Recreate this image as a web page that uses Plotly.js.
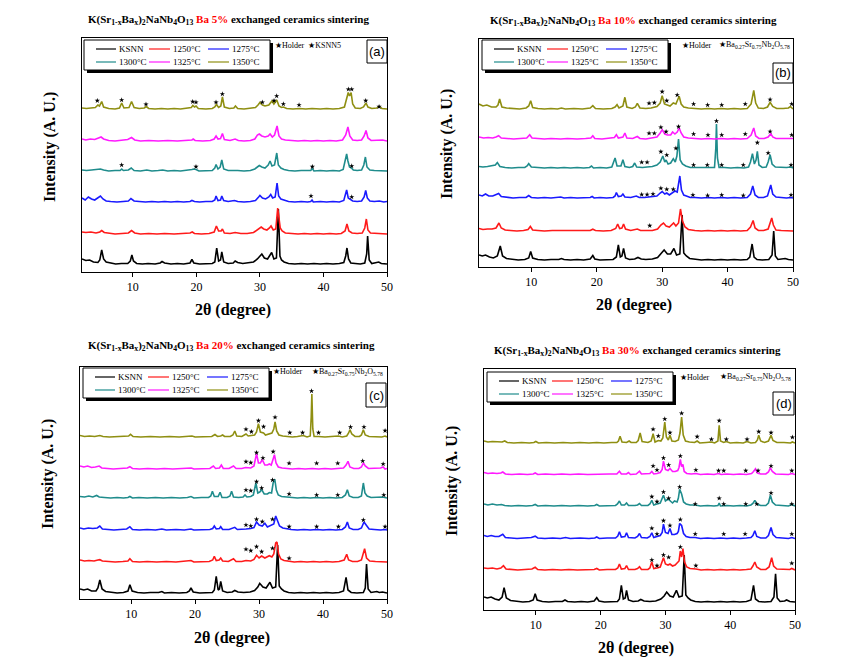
<!DOCTYPE html>
<html><head><meta charset="utf-8">
<script src="https://cdn.plot.ly/plotly-3.0.1.min.js"></script>
<style>html,body{margin:0;padding:0;background:#fff}#chart{width:858px;height:665px}</style>
</head><body><div id="chart"></div>
<script>
// ---------- DATA ----------
const angleTicks = [10, 20, 30, 40, 50];
const seriesNames = ['KSNN', '1250°C', '1275°C', '1300°C', '1325°C', '1350°C'];
const panelBa = ['Ba 5%', 'Ba 10%', 'Ba 20%', 'Ba 30%'];
const panelLetters = ['(a)', '(b)', '(c)', '(d)'];
const secondPhase = ['KSNN5', 'Ba<sub>0.27</sub>Sr<sub>0.75</sub>Nb<sub>2</sub>O<sub>5.78</sub>', 'Ba<sub>0.27</sub>Sr<sub>0.75</sub>Nb<sub>2</sub>O<sub>5.78</sub>', 'Ba<sub>0.27</sub>Sr<sub>0.75</sub>Nb<sub>2</sub>O<sub>5.78</sub>'];

// vertical stacking offsets (intensity units) of each pattern
const a_offsets = [8, 38, 70, 101, 131, 163];
const b_offsets = [7, 36, 69, 99, 128, 158];
const c_offsets = [6, 37, 69, 101, 130, 162];
const d_offsets = [8, 40, 71.5, 104, 135.5, 167];

// panel (a) Ba 5%  [2theta, intensity]
const a_KSNN = [[2,5],[2.6,3.5],[3.2,4],[3.8,2],[4.5,1.5],[4.8,4],[5.1,14],[5.4,5],[5.8,2],[6.5,1],[7.3,0],[8.2,0.5],[9.2,0.5],[9.6,3],[9.85,9],[10.1,3],[10.6,0.5],[11.5,0],[12.4,0.5],[13.5,0],[14.3,1],[14.6,2.5],[15,1],[16,0],[17,0.5],[18,0],[19,1],[19.3,4.5],[19.6,1],[20.5,0],[21.5,0.5],[22.5,0.5],[22.9,2],[23.2,16],[23.5,3],[23.8,4],[24.0,12],[24.3,2],[25,0.5],[25.8,1],[26.1,3],[26.5,1.5],[27.3,0.5],[28.2,1],[29,2],[29.6,5],[30.0,8],[30.3,10],[30.7,6],[31.2,5],[31.6,9],[31.85,11.5],[32.2,5],[32.6,6],[32.9,55],[33.15,8],[33.4,4],[33.8,2],[34.5,0.5],[35.5,0],[36.5,0.5],[37.5,0],[38.5,0.5],[39.5,0],[40.5,0.5],[41.5,0],[42.5,0.5],[43.2,1.5],[43.5,8],[43.7,16],[43.95,5],[44.3,1],[45,0.5],[45.8,0],[46.5,1],[46.8,10],[46.95,28],[47.2,4],[47.6,0.5],[48.3,1],[48.7,2],[49.1,0.5],[50,0]];
const a_1250 = [[2,2],[2.6,1.5],[3.4,2],[4.2,1],[4.8,2],[5.1,3.5],[5.5,1.5],[6.3,0.5],[7.2,0],[8.3,0.5],[9.3,1],[9.8,3.5],[10.3,1],[11.2,0],[12.5,0.5],[13.8,0],[15,0.5],[16.5,0],[18,0.5],[19,1],[19.35,2],[19.7,0.5],[20.8,0],[22,0.5],[22.8,2],[23.15,8],[23.5,3],[23.9,3],[24.1,5],[24.4,1],[25.3,0.5],[26.1,1.5],[27,0.5],[28,0.5],[29,1.5],[29.6,4],[30.2,7],[30.6,5],[31.1,4],[31.5,6],[31.75,8],[32.1,4],[32.5,5],[32.8,26],[33.0,14],[33.2,6],[33.5,3],[34,1],[35,0.5],[36,0],[37,0.5],[38,0],[39,0.5],[40,0],[41,0.5],[42,0],[42.8,0.5],[43.4,3],[43.7,10],[44.0,3],[44.5,1],[45.3,0.5],[46.1,1],[46.5,6],[46.75,15],[47.0,4],[47.4,1],[48.2,0.5],[49,0.5],[50,0]];
const a_1275 = [[2,4],[2.5,2],[3,5],[3.5,3],[4.0,2],[4.5,4],[4.9,6],[5.3,3],[5.8,1],[6.5,0.5],[7.5,0],[8.5,0.5],[9.3,1],[9.7,3.5],[10.2,1],[11,0.5],[12,0],[13,0.5],[14,0],[15,0.5],[16,0],[17,0.5],[18,0],[19,0.5],[19.3,1.5],[19.7,0.5],[20.5,0],[21.5,0.5],[22.5,0.5],[22.9,2],[23.1,6],[23.4,1.5],[23.8,2],[24.0,6],[24.3,1.5],[25,0.5],[26,1.5],[26.5,0.5],[27.5,0],[28.5,0.5],[29.3,1.5],[29.8,5],[30.0,6.5],[30.4,4],[30.9,3],[31.4,5],[31.7,7.5],[32.0,4],[32.4,5],[32.7,19],[32.95,6],[33.3,3],[33.7,2],[34.5,0.5],[35.5,0],[36.5,0.5],[37.5,0],[38.0,0.5],[38.2,2],[38.4,0],[39.5,0.5],[40.5,0],[41.5,0.5],[42.5,0],[43.2,1.5],[43.45,7],[43.65,12],[43.9,4],[44.3,2],[44.6,1],[45.3,0.5],[46,1],[46.4,5],[46.65,11.5],[46.9,4],[47.3,1],[48,0.5],[48.8,1],[49.5,0],[50,0.5]];
const a_1300 = [[2,1],[2.7,0.5],[3.5,1],[4.3,1.5],[4.9,2],[5.4,1],[6.2,0],[7.2,0.5],[8.0,0.5],[8.25,2],[8.5,0.5],[9.3,1],[9.75,3],[10.2,0.5],[11.2,0],[12.2,1],[13,0],[14,0.5],[14.7,1],[15.5,0],[16.5,0.5],[17.5,0],[18.5,0.5],[19.3,1.5],[19.6,2],[19.95,1.5],[20.4,0],[21.5,0.5],[22.5,0.5],[22.9,3],[23.1,6.5],[23.4,2],[23.75,4],[24.0,11],[24.3,2],[25,0.5],[26,1],[26.5,0.5],[27.5,0],[28.5,0.5],[29.2,2],[29.6,4],[29.9,5.5],[30.3,4],[30.8,3],[31.3,6],[31.6,10],[31.9,5],[32.3,6],[32.65,18],[32.9,6],[33.3,3],[33.8,1.5],[34.5,0.5],[35.5,0],[36.5,0.5],[37.5,0],[38.0,0.5],[38.25,2.5],[38.5,0],[39.5,0.5],[40.5,0],[41.5,0.5],[42.5,0],[43.1,1.5],[43.4,9],[43.65,17],[43.85,10],[44.1,4],[44.4,3],[44.7,1],[45.3,0.5],[46,1],[46.35,6],[46.6,14],[46.85,4],[47.3,1],[48,0.5],[49,0.5],[50,0]];
const a_1325 = [[2,2],[2.6,1],[3.3,2],[4,1.5],[4.6,3],[5.0,4],[5.4,2],[6.2,0.5],[7.2,0],[8.2,0.5],[9.2,1.5],[9.8,3.5],[10.3,1],[11.2,0],[12.5,0.5],[14,0],[15.5,0.5],[17,0],[18.5,0.5],[19.3,1],[19.5,2],[19.8,0.5],[21,0],[22.2,0.5],[22.8,2],[23.1,5],[23.4,2],[23.8,2.5],[24.1,7.5],[24.4,1.5],[25.3,0.5],[26.1,2],[26.6,0.5],[27.5,0],[28.5,0.5],[29.2,2],[29.6,6],[29.9,7],[30.3,5],[30.8,4],[31.3,5],[31.6,7],[31.95,4],[32.3,6],[32.7,15],[33.0,5],[33.4,2],[34,1],[35,0.5],[36,0],[37,0.5],[38,0],[39,0.5],[40,0],[41,0.5],[42,0],[43,1],[43.5,6],[43.85,14],[44.15,5],[44.6,1],[45.3,0.5],[46,1],[46.4,5],[46.7,10.5],[47.0,3],[47.5,0.5],[48.5,0.5],[49.3,1],[50,0]];
const a_1350 = [[2,1],[2.7,0.5],[3.4,1],[4.1,1.5],[4.5,4],[4.75,3],[5.1,7.5],[5.4,2],[6.2,0.5],[7.2,0],[7.9,1],[8.25,6],[8.6,1],[9.4,1.5],[9.8,7.5],[10.2,1.5],[11,0.5],[11.8,1],[12.1,2.5],[12.5,0.5],[13.5,0],[14.5,0.5],[15.5,0],[16.5,0.5],[17.5,0],[18.5,0.5],[19.2,1.5],[19.45,3.5],[19.7,2],[19.95,3],[20.3,0.5],[21.5,0],[22.5,0.5],[22.9,2],[23.15,4.5],[23.5,1.5],[23.85,3],[24.1,12],[24.4,2],[25.2,0.5],[25.9,1],[26.15,3],[26.5,0.5],[27.5,0],[28.5,0.5],[29.3,1.5],[29.7,4],[30.0,6.5],[30.4,4],[30.8,3],[31.4,4],[31.9,8],[32.2,5],[32.65,9],[33.0,3],[33.4,1.5],[33.7,2],[34.2,0.5],[35.2,0],[36.2,0.5],[37.2,0],[38.2,0.5],[39.5,0],[40.5,0.5],[41.5,0],[42.5,0.5],[43.3,2],[43.65,10],[43.9,16.5],[44.1,13],[44.35,16.5],[44.6,5],[45,1],[45.8,0.5],[46.3,2],[46.7,6],[47.0,2],[47.6,0.5],[48.4,1],[48.8,2.5],[49.2,0.5],[50,0]];
const a_marks = [[4.41,171.3],[8.24,172],[12.07,167.7],[19.42,170.3],[19.94,169.7],[23.09,169.7],[24.09,178],[30.38,169.7],[32.22,171.3],[32.64,176],[33.69,168],[36.16,167],[43.92,182.7],[44.45,182.7],[46.65,171.3],[48.75,165.3],[8.24,107],[19.94,105.3],[38.25,105.3],[44.45,106],[38.04,76],[44.45,75]];

// panel (b) Ba 10%
const b_KSNN = [[2,5],[2.5,4],[3,5],[3.6,3],[4.2,2],[4.8,4],[5.25,14],[5.6,4],[6.2,1.5],[7,0.5],[8,0],[9,0.5],[9.6,2],[9.9,8.5],[10.2,2],[11,0.5],[12,0],[13,0.5],[14.2,0.5],[14.6,1.5],[15,0.5],[16,0],[17,0.5],[18,0],[19,1],[19.4,4.5],[19.7,1],[20.5,0],[21.5,0.5],[22.5,0.5],[23.0,3],[23.3,15],[23.6,3],[23.85,4],[24.1,11.5],[24.4,2],[25,0.5],[25.8,1],[26.3,2.5],[26.8,1],[27.5,0.5],[28.5,1],[29.3,2.5],[29.8,6],[30.3,10],[30.8,6],[31.3,6],[31.8,11.5],[32.2,5],[32.7,6],[33.05,45],[33.3,7],[33.7,4],[34.2,1.5],[35,0.5],[36,0],[37,0.5],[38,0],[39,0.5],[40,0],[41,0.5],[42,0],[43,0.5],[43.4,3],[43.75,16],[44.05,3],[44.5,0.5],[45.3,0],[46.3,0.5],[46.8,5],[47.05,29],[47.3,4],[47.7,0.5],[48.4,1],[48.8,1.5],[49.3,0.5],[50,0]];
const b_1250 = [[2,2.5],[2.6,1.5],[3.3,2],[4,2],[4.6,3],[5.05,8],[5.4,3],[6,1],[6.8,0.5],[7.8,0],[8.8,0.5],[9.5,1.5],[9.85,4.5],[10.2,1],[11,0.5],[12,0],[13.2,0.5],[14.5,0.5],[15.5,0],[16.8,0.5],[18,0],[19,0.5],[19.4,1.8],[19.8,0.5],[21,0],[22.2,0.5],[22.9,2.5],[23.2,7],[23.5,2.5],[23.85,3],[24.1,7],[24.4,2],[25.2,0.5],[25.8,1],[26.2,2],[26.7,0.5],[27.5,0.5],[28.1,1],[28.5,0.5],[29.3,2],[29.8,6],[30.2,8],[30.6,5],[31.1,4],[31.5,6],[31.75,8],[32.1,5],[32.5,8],[32.8,22],[33.1,10],[33.5,4],[34,1.5],[35,0.5],[36,0],[37,0.5],[38,0],[39,0.5],[40,0],[41,0.5],[42,0],[43,0.5],[43.5,4],[43.9,10.5],[44.2,3],[44.7,0.5],[45.5,0.5],[46.2,2],[46.5,8],[46.75,13],[47.0,6],[47.4,1],[48.2,0.5],[49,0.5],[50,0]];
const b_1275 = [[2,3],[2.5,2],[3,4],[3.5,2],[4.1,2],[4.6,3],[5.0,4.5],[5.4,1.5],[6.2,0.5],[7.2,0],[8.2,0.5],[9.2,0.5],[9.6,2.5],[10,0.5],[11,0],[12,0.5],[13,0],[14,0.5],[14.5,1],[15,0],[16,0.5],[17,0],[18,0.5],[19,0.5],[19.3,1.5],[19.6,0],[20.5,0.5],[21.5,0],[22.5,0.5],[22.8,2],[23.0,5.5],[23.3,1.5],[23.75,2],[24.0,4],[24.3,1],[25.2,0.5],[26.05,2],[26.5,0.5],[27.3,0.5],[28,1],[28.6,1],[29.2,2],[29.7,5],[30.0,6.5],[30.4,4],[30.7,5],[31.1,3],[31.6,5],[31.95,7],[32.3,6],[32.7,22],[32.95,8],[33.3,3],[33.7,2],[34.3,0.5],[35,0.5],[36,0],[37,0.5],[38,0],[39,0.5],[40,0],[41,0.5],[42,0],[43,0.5],[43.5,4],[43.85,12],[44.2,3],[44.7,0.5],[45.5,0.5],[46.1,2],[46.4,8],[46.6,13],[46.9,4],[47.4,1],[48.2,0.5],[49,0],[49.7,0.5],[50,0]];
const b_1300 = [[2,1.5],[2.6,1],[3.3,1.5],[4,2],[4.5,3],[4.8,5.5],[5.2,1.5],[6,0.5],[7,0],[8,0.5],[9,0.5],[9.35,2],[9.6,4.3],[10,1],[11,0.5],[12,0],[13,0.5],[14,0],[15,0.5],[16,0],[17,0.5],[18,0],[18.9,0.5],[19.2,2],[19.5,0],[20.5,0.5],[21.5,0],[22.3,1],[22.8,10],[23.1,2],[23.7,2],[24.0,8.3],[24.3,1.5],[25,0.5],[25.5,1.5],[25.8,5],[26.1,1],[27,0.5],[27.7,1],[28.5,1.5],[29.2,3],[29.7,6],[30.1,12],[30.4,6],[30.6,8],[30.9,4],[31.3,5],[31.7,9.3],[32.0,6],[32.25,12],[32.5,29],[32.75,8],[33.1,4],[33.6,2],[34.3,0.5],[35.2,0.5],[36.2,0],[37.2,0.5],[38.0,0.5],[38.2,20],[38.3,44],[38.45,10],[38.7,0.5],[39.5,0.5],[40.5,0],[41.5,0.5],[42.5,0],[43.2,1],[43.5,6],[43.8,14.3],[44.1,4],[44.35,8],[44.55,16.7],[44.8,3],[45.3,0.5],[45.9,1],[46.2,6],[46.5,13.3],[46.8,4],[47.3,1],[48.2,0.5],[49,0.5],[49.7,1],[50,0]];
const b_1325 = [[2,2],[2.7,1],[3.4,1.5],[4.1,1],[4.6,2],[5.0,3.3],[5.4,1],[6.3,0.5],[7.3,0],[8.3,0.5],[9.3,1],[9.75,4.3],[10.1,1],[11,0.5],[12,0],[13,0.5],[14.5,0],[15.5,0.5],[17,0],[18.3,0.5],[19.1,1],[19.4,3.3],[19.7,0.5],[20.8,0],[22,0.5],[22.7,1.5],[23.0,4.3],[23.3,1],[24.0,2],[24.3,6],[24.6,1],[25.5,0.5],[26.2,2.5],[26.6,0.5],[27.5,0],[28.3,1],[29.2,2],[29.7,6],[30.0,9.3],[30.4,5],[30.8,4],[31.3,4],[31.6,7],[31.95,5],[32.3,7],[32.6,11],[32.9,6],[33.3,2],[34,1],[35,0.5],[36,0],[37,0.5],[38,0],[39,0.5],[40,0],[41,0.5],[42,0],[43,0.5],[43.6,4],[44.0,11],[44.3,3],[44.8,0.5],[45.6,0.5],[46.2,2],[46.6,5.3],[46.9,2],[47.4,0.5],[48.5,0.5],[49.5,0],[50,0.5]];
const b_1350 = [[2,5],[2.6,3],[3.2,4],[3.9,2],[4.6,2],[4.9,4],[5.15,10],[5.5,2],[6.2,1],[7.2,0.5],[8.2,0],[9.2,1],[9.6,3],[9.9,8.3],[10.2,1.5],[11,0.5],[12,0],[13,0.5],[14,0],[14.6,1],[15.2,0],[16.5,0.5],[17.8,0],[19,1],[19.4,3.3],[19.8,0.5],[21,0],[22.3,0.5],[22.8,2],[23.1,4.3],[23.4,1],[24.0,3],[24.3,11.7],[24.6,2],[25.4,0.5],[25.9,2],[26.2,5.7],[26.6,1],[27.5,0.5],[28.3,1],[29.2,2.5],[29.7,6],[30.0,13.3],[30.35,5],[30.7,4],[31.2,3],[31.7,6],[32.1,5],[32.6,12.7],[32.9,5],[33.3,2],[34,1],[35,0.5],[36,0],[37,0.5],[38,0],[39,0.5],[40,0],[41,0.5],[42,0],[43,0.5],[43.6,5],[44.0,18.7],[44.3,6],[44.7,1],[45.5,0.5],[46.1,2],[46.5,6.7],[46.9,2.5],[47.5,0.5],[48.5,0.5],[49.3,1],[49.6,2.5],[49.9,0.5],[50,0]];
const b_marks = [[28.1,41.3],[26.87,72.5],[27.7,72.5],[28.6,73],[29.8,78.7],[30.7,77.7],[31.7,77.7],[34.7,72],[36.95,71.5],[39.1,72],[42.4,71.5],[49.7,72],[26.87,104.7],[27.7,104.7],[29.8,115.3],[30.7,112],[32.1,118.7],[34.8,102],[36.9,102],[38.3,146],[39.1,102],[42.4,102],[44.55,124.3],[46.2,114],[49.7,102],[28.0,133.7],[28.8,133.7],[29.8,139.7],[30.6,135.3],[32.5,140.3],[34.8,133],[37.0,132],[39.1,132],[42.7,133],[46.5,135.5],[49.8,132],[28.0,163.7],[28.8,164.3],[30.0,175.3],[30.7,166.3],[32.3,172],[34.8,163],[36.95,162],[39.1,162],[42.7,163],[46.5,167.5],[49.8,163]];

// panel (c) Ba 20%
const c_KSNN = [[2,4],[2.6,3],[3.2,4],[3.8,2],[4.5,2],[4.8,5],[5.1,13],[5.45,4],[6,1.5],[6.8,0.5],[7.8,0],[8.8,0.5],[9.5,2],[9.8,8.3],[10.15,2],[11,0.5],[12,0],[13,0.5],[14.3,0.5],[14.8,1.5],[15.2,0],[16.3,0.5],[17.5,0],[18.7,0.5],[19.1,2],[19.35,5],[19.7,1],[20.7,0],[21.8,0.5],[22.7,0.5],[23.0,3],[23.3,16.7],[23.6,3],[23.8,4],[24.0,11.7],[24.3,2],[25,0.5],[25.8,1],[26.2,2.5],[26.7,1],[27.6,0.5],[28.6,1],[29.3,2.5],[29.8,6],[30.1,9.7],[30.6,6],[31.1,5],[31.7,10.7],[32.1,5],[32.6,6],[32.9,48],[33.15,7],[33.5,4],[33.9,2],[34.6,0.5],[35.5,0],[36.5,0.5],[37.5,0],[38.5,0.5],[39.5,0],[40.5,0.5],[41.5,0],[42.5,0.5],[43.2,2],[43.6,15.7],[43.9,3],[44.4,0.5],[45.3,0],[46.3,0.5],[46.6,5],[46.8,29],[47.05,4],[47.5,0.5],[48.4,1.5],[48.8,0.5],[49.3,1],[50,0]];
const c_1250 = [[2,2],[2.7,1],[3.4,1.5],[4.2,1],[4.8,2],[5.1,2.3],[5.5,1],[6.3,0.5],[7.5,0],[8.7,0.5],[9.5,1],[9.8,3.3],[10.2,0.5],[11.3,0],[12.5,0.5],[14,0],[15.5,0.5],[17,0],[18.5,0.5],[19.35,1.5],[19.8,0],[21,0.5],[22.2,0.5],[22.75,2],[23.0,5.7],[23.3,1.5],[23.75,2],[24.0,4],[24.3,1],[25.2,0.5],[26.0,3.3],[26.4,0.5],[27.3,0.5],[27.95,1.5],[28.7,1],[29.2,2.5],[29.6,6.7],[30.0,4],[30.4,6],[30.9,4],[31.3,5],[31.6,6.3],[32.0,5],[32.3,8],[32.6,19],[32.8,20],[33.05,8],[33.4,3],[33.9,1.5],[34.7,1],[35.5,0],[36.5,0.5],[37.5,0],[38.5,0.5],[39.5,0],[40.5,0.5],[41.5,0],[42.5,0.5],[43.3,2],[43.7,7.7],[44.0,2],[44.6,0.5],[45.4,0.5],[46.0,2],[46.3,8],[46.5,13.3],[46.8,4],[47.3,1],[48.2,0.5],[49.2,0.5],[50,0]];
const c_1275 = [[2,2],[2.6,1],[3.3,2],[4,1.5],[4.7,2],[5.1,4],[5.5,1],[6.3,0.5],[7.3,0],[8.3,0.5],[9.3,1],[9.8,3.3],[10.2,0.5],[11.3,0],[12.5,0.5],[13.8,0],[14.8,1],[15.5,0],[17,0.5],[18.3,0],[19.35,1],[19.8,0],[21,0.5],[22.3,0.5],[22.75,1.5],[23.0,4],[23.3,1],[23.8,1.5],[24.0,3.3],[24.3,0.5],[25.3,0.5],[25.9,1.5],[26.2,2.7],[26.6,0.5],[27.4,0.5],[27.95,1],[28.7,1.5],[29.2,2.5],[29.6,8],[30.0,5],[30.5,4],[30.9,6.7],[31.3,3],[31.9,5],[32.3,6],[32.6,14],[32.85,9],[33.2,4],[33.7,2],[34.3,1],[35,0.5],[36,0],[37,0.5],[38,0],[39,0.5],[40,0],[41,0.5],[42,0],[43,0.5],[43.5,3],[43.8,8],[44.1,2],[44.7,0.5],[45.5,0.5],[46.0,2],[46.4,8],[46.8,4],[47.2,1],[48,0.5],[49,0],[49.7,0.5],[50,0]];
const c_1300 = [[2,1.5],[2.7,1],[3.4,2],[4,1],[4.6,2.5],[5.0,1],[5.8,0.5],[6.8,0],[7.8,0.5],[8.8,0],[9.5,0.5],[9.8,1.5],[10.2,0],[11.2,0.5],[12.5,0],[13.8,0.5],[15,0],[16.3,0.5],[17.6,0],[18.8,0.5],[19.35,1.5],[19.8,0],[21,0.5],[22.1,0.5],[22.45,2],[22.7,6.7],[23.0,1.5],[23.6,1.5],[23.9,5.7],[24.2,0.5],[25.0,0.5],[25.45,2],[25.7,6.7],[26.0,1],[26.8,0.5],[27.5,1],[27.8,3],[28.1,1],[28.7,1.5],[29.1,3],[29.5,15],[29.8,5],[30.1,6],[30.4,8.3],[30.8,4],[31.3,4],[31.6,5.5],[31.95,5],[32.2,15],[32.45,19],[32.7,8],[33.0,3],[33.5,1.5],[34.2,1],[35,0.5],[36,0],[37,0.5],[38,0],[39,0.5],[40,0],[41,0.5],[42,0],[43,0.5],[43.5,3],[43.8,8.3],[44.1,2],[44.7,0.5],[45.5,0.5],[46.0,2],[46.3,15],[46.55,5],[46.9,2],[47.5,0.5],[48.5,0.5],[49.3,1],[50,0]];
const c_1325 = [[2,3],[2.6,2],[3.2,3],[3.8,1.5],[4.4,2],[5.0,3],[5.4,1],[6.2,0.5],[7.2,0],[8.3,0.5],[9.4,1],[9.8,2.3],[10.2,0.5],[11.3,0],[12.6,0.5],[14,0],[15.2,0.5],[16.5,0],[18,0.5],[19.4,1],[19.8,0],[21,0.5],[22.3,0.5],[22.85,3],[23.2,0.5],[23.8,1],[24.1,4],[24.4,0.5],[25.3,0.5],[26.0,3],[26.4,0.5],[27.3,0.5],[27.9,1.5],[28.7,1],[29.2,3],[29.6,15.3],[29.9,6],[30.2,6],[30.5,9.3],[30.9,4],[31.3,4],[31.6,5],[31.9,4],[32.2,10],[32.4,14.3],[32.65,6],[33.0,2],[33.6,1],[34.3,0.5],[35.2,0],[36.2,0.5],[37.2,0],[38.3,0.5],[39.3,0],[40.3,0.5],[41.3,0],[42.3,0.5],[43.2,1],[43.6,4],[43.9,7.7],[44.2,2],[44.8,0.5],[45.6,0.5],[46.0,2],[46.3,6],[46.6,3],[47.1,0.5],[48.2,0.5],[49.0,1],[49.4,2],[49.7,0],[50,0.5]];
const c_1350 = [[2,1.5],[2.7,0.5],[3.5,1],[4.3,0.5],[5.1,1.5],[5.6,0.5],[6.6,0],[7.8,0.5],[9.0,0.5],[9.6,1],[9.9,2.7],[10.3,0.5],[11.5,0],[13,0.5],[14.5,0],[16,0.5],[17.5,0],[19,0.5],[19.5,1],[20,0],[21.5,0.5],[22.6,0.5],[23.1,2.5],[23.5,0.5],[24.0,1],[24.3,2],[24.6,0.5],[25.5,0.5],[25.9,2],[26.2,6],[26.5,1],[27.3,0.5],[27.95,3],[28.3,1],[28.8,1.5],[29.3,2],[29.6,5],[29.9,13.3],[30.2,5],[30.7,4],[31.0,2],[31.6,3],[32.0,4],[32.3,8],[32.5,15],[32.75,6],[33.1,2],[33.7,1],[34.4,0.5],[35.2,0],[36.0,0.5],[36.9,1.5],[37.5,0],[38.0,1],[38.15,20],[38.25,43],[38.4,8],[38.6,0.5],[39.3,0.5],[40.3,0],[41.3,0.5],[42.4,1],[43,0],[43.7,1],[44.0,4],[44.2,7.3],[44.5,3],[45,0.5],[45.7,0.5],[46.0,2],[46.3,7.3],[46.6,2],[47.2,0.5],[48.2,0.5],[49.2,0],[49.7,1],[50,0]];
const c_marks = [[27.95,49.7],[28.7,48.3],[29.6,52.3],[30.4,47.3],[32.1,50.7],[34.7,40.7],[27.95,74],[28.7,73],[29.6,79.7],[30.5,77.3],[32.1,79.7],[34.7,72.3],[39.0,72.3],[42.4,72.3],[46.3,79],[49.7,72.3],[27.95,109],[28.7,108.3],[29.6,117.3],[30.4,111],[32.1,119],[34.7,105],[39.0,104],[42.3,104],[49.5,104],[27.95,137.3],[28.7,136.3],[29.6,146.3],[30.6,141],[32.2,147.3],[34.7,135.7],[39.0,135.7],[42.3,135.7],[46.2,138],[49.4,135],[27.95,169.7],[28.8,167.3],[29.9,178.3],[30.7,172.3],[32.5,181.7],[34.8,166.3],[36.8,166.3],[38.2,208],[39.3,166.3],[42.6,166.3],[44.3,172],[46.4,172],[49.7,168.3]];

// panel (d) Ba 30%
const d_KSNN = [[2,5],[2.5,4],[3.1,5],[3.7,3],[4.3,2],[4.8,5],[5.1,14.3],[5.45,4],[6.1,1.5],[7,0.5],[8,0],[9,0.5],[9.6,2],[9.9,8.3],[10.2,2],[11,0.5],[12,0],[13,0.5],[14.1,0.5],[14.5,2],[14.9,0.5],[16,0],[17,0.5],[18,0],[19,1],[19.4,4.3],[19.75,1],[20.6,0],[21.6,0.5],[22.6,0.5],[22.9,3],[23.2,16.7],[23.5,3],[23.8,4],[24.0,11.7],[24.3,2],[25,0.5],[25.8,1],[26.2,2.5],[26.7,1],[27.6,0.5],[28.5,1],[29.3,3],[29.8,6],[30.2,10],[30.7,6],[31.2,5],[31.7,11.7],[32.1,5],[32.6,6],[32.9,47],[33.15,7],[33.5,4],[33.9,2],[34.6,0.5],[35.5,0],[36.5,0.5],[37.5,0],[38.5,0.5],[39.5,0],[40.5,0.5],[41.5,0],[42.5,0.5],[43.2,2],[43.6,16.7],[43.9,3],[44.4,0.5],[45.3,0],[46.3,0.5],[46.75,5],[47.0,28.3],[47.25,4],[47.7,0.5],[48.4,1],[48.7,2],[49.2,0.5],[50,0]];
const d_1250 = [[2,2],[2.6,1.5],[3.3,2],[4,1],[4.6,2],[5.0,4.3],[5.4,1],[6.2,0.5],[7.2,0],[8.3,0.5],[9.4,1],[9.9,2.7],[10.3,0.5],[11.4,0],[12.6,0.5],[13.9,0],[15.1,0.5],[16.4,0],[17.8,0.5],[19.0,0.5],[19.4,1.5],[19.8,0],[21,0.5],[22.3,0.5],[22.65,2],[22.9,6],[23.2,1],[23.75,1.5],[24.0,4.3],[24.3,0.5],[25.3,0.5],[25.7,1.5],[26.0,3.3],[26.3,0.5],[27.3,0.5],[27.6,2],[27.9,8],[28.2,1.5],[28.7,2],[29.2,3],[29.7,12.3],[30.0,6],[30.4,5],[30.7,6],[31.1,4],[31.5,5],[31.8,7],[32.1,9],[32.3,19],[32.5,13],[32.7,21.3],[32.95,8],[33.3,3],[33.8,1.5],[34.7,1],[35.5,0],[36.5,0.5],[37.5,0],[38.5,0.5],[39.5,0],[40.5,0.5],[41.5,0],[42.5,0.5],[43.2,1],[43.5,4],[43.8,8],[44.1,3],[44.7,0.5],[45.5,0.5],[46.0,3],[46.4,12.3],[46.7,4],[47.2,1],[48.2,0.5],[49.2,0.5],[49.5,1.5],[50,0]];
const d_1275 = [[2,3],[2.5,2],[3.1,3],[3.7,2],[4.3,2],[4.9,4.3],[5.3,1],[6.1,0.5],[7.1,0],[8.2,0.5],[9.3,1],[9.9,2.3],[10.3,0.5],[11.4,0],[12.6,0.5],[13.8,0],[14.6,1],[15.3,0],[16.8,0.5],[18.2,0],[19.1,0.5],[19.4,1.5],[19.8,0],[21,0.5],[22.3,0.5],[22.65,2.5],[22.9,6.7],[23.2,1.5],[23.75,2],[24.0,5.7],[24.3,1],[25.3,0.5],[25.7,2],[26.0,5],[26.3,1],[27.2,0.5],[27.6,2],[27.9,5.7],[28.2,1],[28.7,2],[29.2,3],[29.5,6],[29.7,14.3],[30.0,6],[30.4,5],[30.7,10],[31.0,4],[31.4,4],[31.8,5],[32.0,7],[32.2,15],[32.5,13],[32.8,5],[33.2,2],[33.8,1],[34.6,1],[35.4,0],[36.5,0.5],[37.5,0],[38.5,0.5],[39.5,0],[40.5,0.5],[41.5,0],[42.5,0.5],[43.2,1],[43.5,3],[43.8,7.7],[44.1,2],[44.7,0.5],[45.5,0.5],[45.9,3],[46.3,11],[46.6,4],[47.1,1],[48,0.5],[49,0],[49.5,1],[50,0]];
const d_1300 = [[2,2],[2.6,1],[3.3,2],[4,1],[4.7,1.5],[5.2,0.5],[6.2,0],[7.3,0.5],[8.5,0],[9.5,0.5],[9.9,1.5],[10.3,0],[11.5,0.5],[12.8,0],[14,0.5],[15.3,0],[16.6,0.5],[18,0],[19.1,0.5],[19.4,1.5],[19.8,0],[21,0.5],[22.3,0.5],[22.6,2],[22.9,5],[23.2,1],[23.7,1],[24.0,3],[24.3,0.5],[25.3,0.5],[25.7,1],[26.0,2.5],[26.3,0.5],[27.3,0.5],[27.6,2],[27.9,5.7],[28.2,1],[28.7,2],[29.2,3],[29.7,10.7],[30.0,5],[30.4,7],[30.7,5],[31.1,3],[31.4,5],[31.8,4],[32.0,8],[32.2,16.7],[32.5,12],[32.8,4],[33.2,2],[33.8,1],[34.6,1],[35.4,0],[36.5,0.5],[37.5,0],[38.1,0.5],[38.3,3],[38.5,0],[39.5,0.5],[40.5,0],[41.5,0.5],[42.5,0],[43.2,1],[43.5,2.5],[43.8,5.7],[44.1,2],[44.7,0.5],[45.5,0.5],[45.9,3],[46.2,10.7],[46.5,4],[47.0,1],[48,0.5],[49,0],[49.5,1.5],[50,0]];
const d_1325 = [[2,2],[2.6,1],[3.3,1.5],[4,1],[4.6,1.5],[4.9,2.5],[5.3,0.5],[6.3,0],[7.5,0.5],[8.7,0],[9.6,0.5],[9.9,1.5],[10.3,0],[11.5,0.5],[12.8,0],[14,0.5],[15.3,0],[16.6,0.5],[18,0],[19.4,0.5],[20,0],[21.3,0.5],[22.5,0.5],[22.9,3.3],[23.2,0.5],[24.0,0.5],[24.3,2],[24.6,0],[25.5,0.5],[26.0,3.3],[26.3,0.5],[27.3,0.5],[27.6,1],[27.9,3],[28.2,0.5],[28.7,1],[29.2,2],[29.5,5],[29.7,13.3],[30.0,5],[30.4,4],[30.7,6],[31.1,3],[31.5,3],[31.9,4],[32.1,7],[32.3,15],[32.5,8],[32.7,10],[32.9,3],[33.3,1],[34,0.5],[34.7,1],[35.4,0],[36.5,0.5],[37.5,0],[38.2,1],[38.6,0],[39.5,0.5],[40.5,0],[41.5,0.5],[42.5,0],[43.3,1],[43.6,3],[43.9,5.7],[44.2,1.5],[44.7,0.5],[45.5,0.5],[45.9,2.5],[46.2,6.7],[46.5,3],[47.0,0.5],[48,0.5],[49,0],[49.5,1],[50,0]];
const d_1350 = [[2,2],[2.6,1],[3.3,1.5],[4.1,1],[4.8,1],[5.2,2],[5.6,0.5],[6.6,0],[7.8,0.5],[9.0,0],[9.7,0.5],[10.0,1.5],[10.4,0],[11.6,0.5],[12.9,0],[14.2,0.5],[15.5,0],[16.8,0.5],[18.2,0],[19.4,0.5],[20.5,0],[21.7,0.5],[22.5,0.5],[22.75,2],[23.0,6.7],[23.3,1],[24.0,0.5],[24.4,2],[24.7,0.5],[25.5,0.5],[25.8,2.5],[26.1,10],[26.4,1.5],[27.3,0.5],[27.8,2],[28.1,9.3],[28.4,1],[28.9,2.5],[29.3,2],[29.6,5],[29.9,21],[30.15,6],[30.45,3],[30.7,7.7],[31.0,2],[31.5,1.5],[32.0,3],[32.25,10],[32.5,26],[32.75,8],[33.1,2],[33.7,1],[34.5,0.5],[34.9,2],[35.3,0],[36.3,0.5],[37.1,1],[37.6,0],[38.1,2],[38.3,17.7],[38.5,2],[39.0,0.5],[39.4,1.5],[40,0],[41,0.5],[42,0],[42.6,1.5],[43.2,0],[43.9,0.5],[44.2,3],[44.4,7.7],[44.7,2],[45.3,0.5],[45.9,2],[46.3,7.7],[46.6,2.5],[47.2,0.5],[48.3,0.5],[49.3,0],[49.6,1],[50,0]];
const d_marks = [[27.9,50],[28.7,44.3],[29.7,55],[30.5,52.7],[32.3,63],[34.7,44.3],[49.5,46.7],[27.9,81.7],[28.7,76],[29.7,89.3],[30.7,84.5],[32.3,90.5],[34.6,76],[39.0,76],[42.3,76],[49.5,76],[27.9,113.3],[28.7,108.3],[29.7,118],[30.5,111.7],[32.2,123],[34.6,106],[38.3,111.7],[39.0,106],[42.4,106],[44.1,106],[46.3,117],[49.5,106],[28.1,144],[28.7,140],[29.7,152],[30.5,145],[32.3,154],[34.7,140],[38.2,139.3],[39.0,139.3],[42.4,139.3],[44.3,139.3],[46.3,144],[49.5,139.3],[28.1,180.7],[28.9,174],[29.9,191],[30.7,177.3],[32.5,196.7],[34.9,173.3],[37.1,170.7],[38.3,189.3],[39.4,170.7],[42.6,170.7],[44.4,178.3],[46.3,177.3],[49.6,172.7]];

// ---------- LAYOUT / STYLE ----------
const W = 858, H = 665;
const colors = ['#000000', '#ff1a1a', '#1a1aff', '#1f8c8c', '#ff1aff', '#8f8f12'];
const px = v => v / W;
const py = v => 1 - v / H;

const panels = [
  {series:[a_KSNN,a_1250,a_1275,a_1300,a_1325,a_1350], off:a_offsets, marks:a_marks, box:[82,387,38,272], legend:[84,40], letter:[367,40,20,23], title:[228,20], xt:[233,310], yt:[50,147], holder:[273,45,0]},
  {series:[b_KSNN,b_1250,b_1275,b_1300,b_1325,b_1350], off:b_offsets, marks:b_marks, box:[479,793,39,267], legend:[482,40], letter:[773,63,20,20], title:[633,21], xt:[634,305], yt:[447,144], holder:[680,45,717]},
  {series:[c_KSNN,c_1250,c_1275,c_1300,c_1325,c_1350], off:c_offsets, marks:c_marks, box:[80,387,367,599], legend:[83,368], letter:[366,383,20,24], title:[231,346], xt:[232,638], yt:[48,474], holder:[271,372,310]},
  {series:[d_KSNN,d_1250,d_1275,d_1300,d_1325,d_1350], off:d_offsets, marks:d_marks, box:[484,795,369,610], legend:[487,372], letter:[773,392,21,23], title:[637,351], xt:[636,648], yt:[452,481], holder:[678,377,718]}
];

const traces = [];
const layout = {
  width: W, height: H, margin: {l:0, r:0, t:0, b:0},
  paper_bgcolor: '#fff', plot_bgcolor: '#fff', showlegend: false,
  shapes: [], annotations: []
};
const serif = 'Liberation Serif, Times New Roman, serif';

panels.forEach((p, k) => {
  const n = k === 0 ? '' : String(k + 1);
  const [l, r, t, b] = p.box;
  const hgt = b - t;
  p.series.forEach((s, i) => {
    traces.push({
      type: 'scatter', mode: 'lines', name: seriesNames[i],
      x: s.map(d => d[0]), y: s.map(d => d[1] + p.off[i]),
      xaxis: 'x' + n, yaxis: 'y' + n,
      line: {color: colors[i], width: 1.6}, hoverinfo: 'skip'
    });
  });
  traces.push({
    type: 'scatter', mode: 'markers', name: 'phase marks',
    x: p.marks.map(d => d[0]), y: p.marks.map(d => d[1]),
    xaxis: 'x' + n, yaxis: 'y' + n,
    marker: {symbol: 'star', size: 4, color: '#000'}, hoverinfo: 'skip'
  });
  layout['xaxis' + n] = {
    domain: [px(l), px(r)], range: [2, 50], anchor: 'y' + n,
    tickvals: angleTicks, ticks: 'outside', ticklen: 4, tickwidth: 1, tickcolor: '#000',
    showline: true, linecolor: '#000', linewidth: 1, mirror: true,
    showgrid: false, zeroline: false,
    tickfont: {family: serif, size: 12, color: '#000'}
  };
  layout['yaxis' + n] = {
    domain: [py(b), py(t)], range: [0, hgt], anchor: 'x' + n,
    showticklabels: false, ticks: '', showline: true, linecolor: '#000', linewidth: 1, mirror: true,
    showgrid: false, zeroline: false
  };
  // panel title
  layout.annotations.push({
    xref: 'paper', yref: 'paper', x: px(p.title[0]), y: py(p.title[1]), xanchor: 'center', yanchor: 'middle', showarrow: false,
    text: '<b>K(Sr<sub>1-x</sub>Ba<sub>x</sub>)<sub>2</sub>NaNb<sub>4</sub>O<sub>13</sub> <span style="color:#ff0000">' + panelBa[k] + '</span> exchanged ceramics sintering</b>',
    font: {family: serif, size: 11, color: '#000'}
  });
  // axis titles
  layout.annotations.push({
    xref: 'paper', yref: 'paper', x: px(p.xt[0]), y: py(p.xt[1]), xanchor: 'center', yanchor: 'middle', showarrow: false,
    text: '<b>2θ (degree)</b>', font: {family: serif, size: 16, color: '#000'}
  });
  layout.annotations.push({
    xref: 'paper', yref: 'paper', x: px(p.yt[0]), y: py(p.yt[1]), xanchor: 'center', yanchor: 'middle', showarrow: false, textangle: -90,
    text: '<b>Intensity (A. U.)</b>', font: {family: serif, size: 16, color: '#000'}
  });
  // legend box with shadow
  const [lx, ly] = p.legend;
  const LW = 186, LH = 30;
  layout.shapes.push({type: 'rect', xref: 'paper', yref: 'paper', x0: px(lx + 3), x1: px(lx + LW + 3), y0: py(ly + LH + 3), y1: py(ly + 3), fillcolor: '#000', line: {width: 0}, layer: 'above'});
  layout.shapes.push({type: 'rect', xref: 'paper', yref: 'paper', x0: px(lx), x1: px(lx + LW), y0: py(ly + LH), y1: py(ly), fillcolor: '#fff', line: {color: '#000', width: 1}, layer: 'above'});
  const colLine = [[12, 32], [65, 86], [124, 145]];
  const colText = [33, 87, 146];
  seriesNames.forEach((nm, i) => {
    const row = i < 3 ? 0 : 1, col = i % 3;
    const yy = ly + (row === 0 ? 9 : 22);
    layout.shapes.push({type: 'line', xref: 'paper', yref: 'paper', x0: px(lx + colLine[col][0]), x1: px(lx + colLine[col][1]), y0: py(yy), y1: py(yy), line: {color: colors[i], width: 1.2}, layer: 'above'});
    layout.annotations.push({xref: 'paper', yref: 'paper', x: px(lx + colText[col]), y: py(yy), xanchor: 'left', yanchor: 'middle', showarrow: false, text: nm, font: {family: serif, size: 9, color: '#000'}});
  });
  // phase key
  if (k === 0) {
    layout.annotations.push({xref: 'paper', yref: 'paper', x: px(p.holder[0]), y: py(p.holder[1]), xanchor: 'left', yanchor: 'middle', showarrow: false, text: '★Holder  ★' + secondPhase[k], font: {family: serif, size: 8, color: '#000'}});
  } else {
    layout.annotations.push({xref: 'paper', yref: 'paper', x: px(p.holder[0]), y: py(p.holder[1]), xanchor: 'left', yanchor: 'middle', showarrow: false, text: '★Holder', font: {family: serif, size: 8, color: '#000'}});
    layout.annotations.push({xref: 'paper', yref: 'paper', x: px(p.holder[2]), y: py(p.holder[1]), xanchor: 'left', yanchor: 'middle', showarrow: false, text: '★' + secondPhase[k], font: {family: serif, size: 8, color: '#000'}});
  }
  // panel letter box
  const [bx, by, bw, bh] = p.letter;
  layout.shapes.push({type: 'rect', xref: 'paper', yref: 'paper', x0: px(bx), x1: px(bx + bw), y0: py(by + bh), y1: py(by), fillcolor: '#fff', line: {color: '#000', width: 1}, layer: 'above'});
  layout.annotations.push({xref: 'paper', yref: 'paper', x: px(bx + bw / 2), y: py(by + bh / 2), xanchor: 'center', yanchor: 'middle', showarrow: false, text: panelLetters[k], font: {family: 'Liberation Sans, Arial, sans-serif', size: 13, color: '#000'}});
});

Plotly.newPlot('chart', traces, layout, {staticPlot: true, displayModeBar: false});
</script>
</body></html>
